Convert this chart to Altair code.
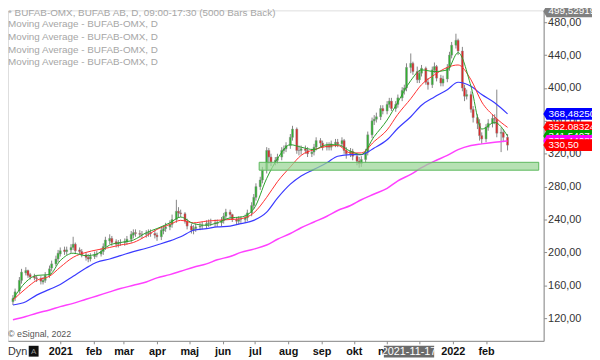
import altair as alt
import pandas as pd

FONT = "Liberation Sans"

# ---------------- data ----------------
opens = [140,145,153,166,175,178,173,171,169,168,
         164,166,172,181,186,192,198,203,201,203,
         206,210,203,201,197,194,192,195,197,198,
         201,207,214,217,213,210,212,212,213,216,
         221,224,223,222,222,223,224,223,221,219,
         226,229,231,234,240,250,248,247,238,232,
         227,229,231,232,233,235,236,236,235,236,
         239,244,249,246,240,238,240,240,242,248,
         257,267,280,288,301,324,316,310,312,316,
         324,326,330,340,350,324,324,326,324,320,
         322,328,336,333,328,330,328,332,334,332,
         336,324,320,323,317,311,308,313,322,343,
         360,362,365,375,372,380,384,375,380,388,
         397,400,425,430,420,410,418,424,407,404,
         422,426,412,406,411,425,440,452,458,445,
         400,390,392,374,364,357,342,338,352,357,
         363,362,345,346,340]
closes = [144,152,166,176,178,172,170,169,168,165,
          166,172,180,186,192,199,202,201,203,206,
          210,202,201,197,194,192,195,197,198,201,
          207,215,217,212,210,212,212,213,216,222,
          224,223,222,222,223,224,223,221,219,227,
          229,231,234,240,250,248,247,238,232,227,
          229,231,232,233,235,236,236,235,236,239,
          244,249,246,240,238,240,240,242,248,257,
          267,280,288,300,324,316,310,312,316,324,
          326,330,340,350,324,324,326,324,320,322,
          328,336,333,328,330,328,332,334,332,336,
          324,320,323,317,311,308,313,322,343,360,
          362,365,375,372,380,384,375,380,388,397,
          400,425,430,420,410,418,424,407,404,422,
          426,412,406,411,425,440,452,458,445,400,
          390,392,374,364,357,342,338,352,357,363,
          362,345,346,340,330.5]
highs = [148,156,170,180,182,179,175,174,172,171,
         170,176,184,190,196,203,206,207,207,210,
         219,212,206,204,200,198,199,201,202,205,
         211,219,222,220,216,215,216,217,220,226,
         228,228,227,226,227,228,228,227,224,231,
         233,236,239,246,264,255,252,249,241,235,
         233,235,236,237,239,240,241,240,240,243,
         248,253,252,247,243,244,244,246,252,261,
         271,284,292,304,328,327,320,316,320,328,
         330,334,344,354,352,330,330,330,328,326,
         332,340,339,336,334,334,336,338,338,340,
         338,328,327,326,320,316,317,326,347,364,
         367,370,379,379,384,388,388,384,392,401,
         404,430,442,432,426,422,428,426,412,426,
         431,428,416,415,429,444,456,466,460,450,
         404,398,396,378,368,362,346,356,362,368,
         368,398,352,350,344]
lows = [136,141,150,162,172,169,167,166,164,161,
        161,163,169,177,183,188,195,197,197,199,
        203,199,198,194,190,188,189,192,194,195,
        197,203,210,208,206,206,208,208,209,212,
        217,219,218,217,218,219,219,217,214,215,
        222,225,227,230,236,243,243,235,228,223,
        222,225,227,228,229,231,232,231,231,232,
        235,240,241,237,234,234,236,236,238,244,
        253,263,276,284,296,308,305,306,308,312,
        320,322,326,336,320,318,319,320,316,316,
        318,324,328,324,324,324,324,328,328,328,
        320,314,316,312,306,303,304,309,318,339,
        355,358,361,368,368,376,372,371,376,384,
        392,396,418,416,406,406,414,404,398,400,
        418,408,402,402,407,421,436,448,440,396,
        384,386,370,358,350,336,332,334,348,352,
        356,340,322,334,324]

# moving averages, sampled every 4th candle
ma_magenta = [118,122,126,130,134,138,143,147,152,156,
              160,164,169,173,177,182,186,191,195,200,
              204,209,216,223,230,237,244,251,257,264,
              271,278,287,295,303,311,318,325,330,332,
              334,335.4]
ma_blue = [136,140,148,155,161,171,181,188,192,196,
           201,205,209,214,219,227,229,231,232,235,
           239,249,266,283,293,301,309,317,319,319,
           327,337,351,365,379,389,398,407,402,392,
           382,368.5]
ma_red = [142,156,166,171,182,194,200,203,206,209,
          212,220,228,234,239,236,238,239,240,241,
          248,267,286,304,318,325,329,330,321,321,
          335,349,368,387,404,416,425,428,410,383,
          365,352.1]
ma_green = [143,164,172,173,190,199,196,198,209,212,
            215,224,229,236,243,235,233,236,242,243,
            253,290,314,331,328,325,331,331,323,319,
            341,361,383,409,422,420,422,443,402,350,
            358,341.5]

tag_values = [368.4825, 352.08324, 341.54074, 335.44085, 330.50]
tag_texts = ["368,48250", "352,08324", "341,54074", "335,44085", "330,50"]
tag_colors = ["#0000ff", "#ff0000", "#00a000", "#ff00ff", "#ff0000"]
top_tag_text = "499,52919"

legend_lines = ["* BUFAB-OMX, BUFAB AB, D, 09:00-17:30 (5000 Bars Back)",
                "Moving Average - BUFAB-OMX, D",
                "Moving Average - BUFAB-OMX, D",
                "Moving Average - BUFAB-OMX, D",
                "Moving Average - BUFAB-OMX, D"]
month_names = ["jan", "feb", "mar", "apr", "maj", "jun", "jul", "aug", "sep", "okt", "nov", "dec"]
y_ticks = [120, 160, 200, 240, 280, 320, 360, 400, 440, 480]
zone_low, zone_high = 300, 309.6
zone_start = "2021-07-05"
crosshair_date = "2021-11-17"

# ---------------- build tables ----------------
def ms(s):
    return int(pd.Timestamp(s).value // 10**6)

dates = pd.bdate_range("2020-11-18", periods=len(closes), freq="2B")
t_ms = (dates.asi8 // 10**6).tolist()

candles = pd.DataFrame({"t": t_ms, "o": opens, "h": highs, "l": lows, "c": closes})
candles["dir"] = ["up" if c >= o else "down" for o, c in zip(opens, closes)]

ma_t = t_ms[::4]

x_domain = [ms("2020-11-18"), ms("2022-03-22")]
month_ticks = [ms(d) for d in pd.date_range("2021-01-01", "2022-02-01", freq="MS")]

W, H = 543, 335
xscale = alt.Scale(type="utc", domain=x_domain)
yscale = alt.Scale(domain=[92.4, 494.4], nice=False, zero=False)

names_js = "[" + ",".join("'%s'" % m for m in month_names) + "]"
x_axis = alt.Axis(values=month_ticks,
                  labelExpr="utcmonth(datum.value) == 0 ? utcFormat(datum.value, '%Y') : "
                            + names_js + "[utcmonth(datum.value)]",
                  labelFont=FONT, labelFontSize=11, labelFontWeight="bold", labelColor="#111",
                  labelPadding=2, tickSize=3, tickColor="#8c8c8c", domainColor="#8c8c8c",
                  labelOverlap=False, labelFlush=False, grid=False, title=None)
y_axis = alt.Axis(orient="right", values=y_ticks,
                  labelExpr="replace(format(datum.value, '.2f'), '.', ',')",
                  labelFont=FONT, labelFontSize=11, labelColor="#333",
                  labelPadding=1, tickSize=3, tickColor="#8c8c8c", domainColor="#8c8c8c",
                  labelOverlap=False, grid=False, title=None)


def X(field="t"):
    return alt.X(field + ":T", scale=xscale, axis=x_axis)


def Y(field):
    return alt.Y(field + ":Q", scale=yscale, axis=y_axis)


wicks = alt.Chart(candles).mark_rule(color="#858585", strokeWidth=1).encode(
    x=X(), y=Y("l"), y2="h:Q")

bodies = alt.Chart(candles).mark_bar(width=2, stroke="#8a8a8a", strokeWidth=0.5).encode(
    x=X(), y=Y("o"), y2="c:Q",
    color=alt.Color("dir:N", scale=alt.Scale(domain=["up", "down"], range=["#2db22d", "#e02424"]),
                    legend=None))


def ma_line(vals, color, sw):
    df = pd.DataFrame({"t": ma_t, "v": vals})
    return alt.Chart(df).mark_line(color=color, strokeWidth=sw, interpolate="monotone").encode(
        x=X(), y=Y("v"))


lines = [ma_line(ma_magenta, "#ff40ff", 1.5),
         ma_line(ma_blue, "#3a3aff", 1.2),
         ma_line(ma_red, "#ff3030", 1.0),
         ma_line(ma_green, "#2aa02a", 1.0)]

zone_df = pd.DataFrame({"t": [ms(zone_start)], "t1": [x_domain[1]],
                        "y0": [zone_low], "y1": [zone_high]})
zone = alt.Chart(zone_df).mark_rect(fill="#9ad696", fillOpacity=0.72, stroke="#5cb85c",
                                    strokeWidth=1).encode(
    x=X(), x2="t1:T", y=Y("y0"), y2="y1:Q")

TAG_PATH = "M-1.12,0L-1,-0.215L1,-0.215L1,0.215L-1,0.215Z"
one = alt.Data(values=[{"a": 1}])

tags = []
for v, txt, col in zip(tag_values, tag_texts, tag_colors):
    df = pd.DataFrame({"v": [v], "txt": [txt]})
    tags.append(alt.Chart(df).mark_point(shape=TAG_PATH, filled=True, fill=col, opacity=1,
                                         strokeWidth=0, size=3136).encode(
        x=alt.value(574), y=Y("v")))
    tags.append(alt.Chart(df).mark_text(align="left", baseline="middle", color="white",
                                        font=FONT, fontSize=10).encode(
        x=alt.value(548), y=Y("v"), text="txt:N"))

tags.append(alt.Chart(one).mark_point(shape=TAG_PATH, filled=True, fill="#808080", opacity=1,
                                      strokeWidth=0, size=3136).encode(
    x=alt.value(574), y=alt.value(1)))
tags.append(alt.Chart(one).mark_text(align="left", baseline="middle", color="white", font=FONT,
                                     fontSize=10, text=top_tag_text).encode(
    x=alt.value(548), y=alt.value(1)))

texts = []
for line, yy in zip(legend_lines, [3, 14, 27, 40, 52]):
    texts.append(alt.Chart(one).mark_text(align="left", baseline="middle", font=FONT,
                                          fontSize=10, color="#a6a6a6", text=line).encode(
        x=alt.value(0), y=alt.value(yy)))

texts.append(alt.Chart(one).mark_text(align="left", baseline="middle", font=FONT, fontSize=9,
                                      color="#555555", text="\u00a9 eSignal, 2022").encode(
    x=alt.value(0), y=alt.value(328)))
texts.append(alt.Chart(one).mark_text(align="left", baseline="middle", font=FONT, fontSize=11,
                                      color="#333333", text="Dyn").encode(
    x=alt.value(0), y=alt.value(346)))
texts.append(alt.Chart(one).mark_rect(color="#111111").encode(
    x=alt.value(21), x2=alt.value(31), y=alt.value(340), y2=alt.value(351)))
texts.append(alt.Chart(one).mark_text(align="center", baseline="middle", font=FONT, fontSize=8,
                                      color="#9a9a9a", text="A").encode(
    x=alt.value(26), y=alt.value(346)))
texts.append(alt.Chart(one).mark_rect(color="#6b6b6b").encode(
    x=alt.value(381), x2=alt.value(432), y=alt.value(340), y2=alt.value(352)))
texts.append(alt.Chart(one).mark_text(align="center", baseline="middle", font=FONT, fontSize=11,
                                      color="white", text=crosshair_date).encode(
    x=alt.value(406.5), y=alt.value(346)))

chart = alt.layer(wicks, bodies, *lines, zone, *tags, *texts).properties(
    width=W, height=H,
    autosize=alt.AutoSizeParams(type="none"),
    padding={"left": 0, "top": 0, "right": 49, "bottom": 17},
).configure_view(stroke=None).configure(font=FONT, background="white")

chart.save("out.html", embed_options={"renderer": "svg", "actions": False})
